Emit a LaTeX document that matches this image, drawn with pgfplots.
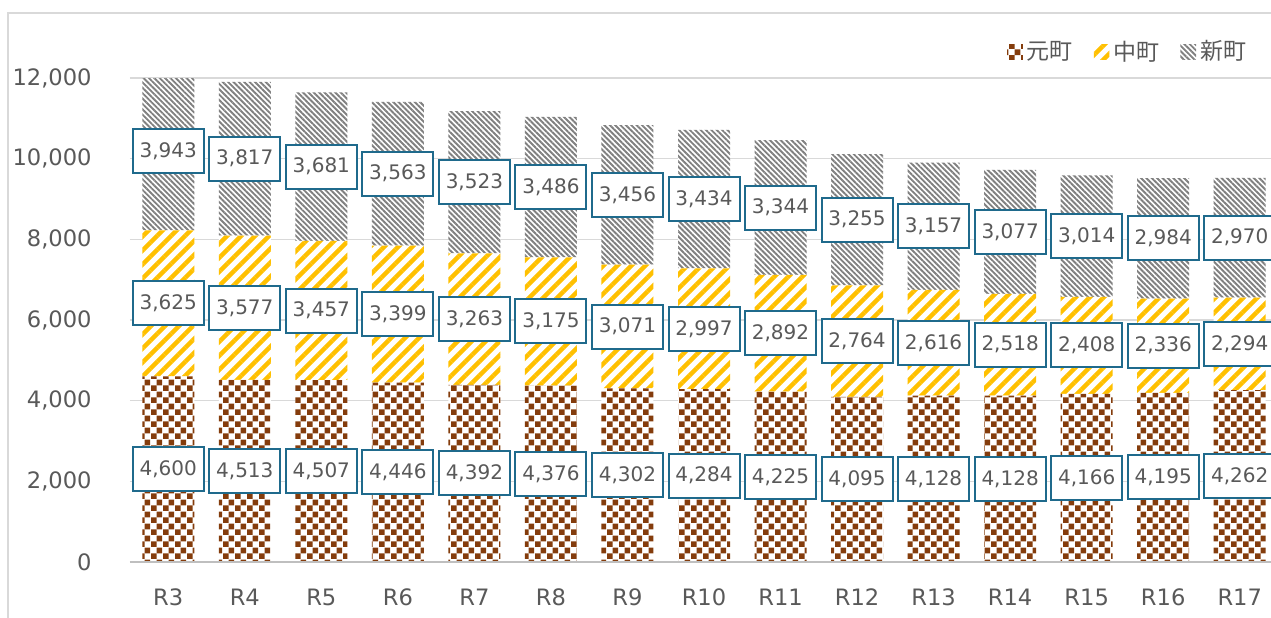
\documentclass[border=0pt]{standalone}
\usepackage{fontspec}
\setmainfont{DejaVu Sans}
\newfontfamily\jp{Noto Sans CJK JP}
\usepackage{pgfplots}
\usepackage{pgfplotstable}
\pgfplotsset{compat=1.18}
\usetikzlibrary{patterns.meta}

\definecolor{textgray}{HTML}{595959}
\definecolor{gridgray}{HTML}{D9D9D9}
\definecolor{axisgray}{HTML}{BFBFBF}
\definecolor{motobrown}{HTML}{843C0C}
\definecolor{nakagold}{HTML}{FFC000}
\definecolor{shingray}{HTML}{808080}
\definecolor{labelblue}{HTML}{1F6A8C}

% checker pattern for 元町
\tikzdeclarepattern{
  name=checker,
  type=uncolored,
  bounding box={(0pt,0pt) and (5.8pt,5.8pt)},
  tile size={(5.8pt,5.8pt)},
  code={
    \fill (0pt,0pt) rectangle (2.9pt,2.9pt);
    \fill (2.9pt,2.9pt) rectangle (5.8pt,5.8pt);
  }
}

\pgfplotstableread{
x  moto naka shin
0  4600 3625 3943
1  4513 3577 3817
2  4507 3457 3681
3  4446 3399 3563
4  4392 3263 3523
5  4376 3175 3486
6  4302 3071 3456
7  4284 2997 3434
8  4225 2892 3344
9  4095 2764 3255
10 4128 2616 3157
11 4128 2518 3077
12 4166 2408 3014
13 4195 2336 2984
14 4262 2294 2970
}\datatable

\begin{document}
\begin{tikzpicture}
\pgfplotsset{
  base/.style={
    scale only axis,
    width=574pt, height=242pt,
    xmin=-0.5, xmax=14.5,
    ymin=0, ymax=12000,
  },
}
\begin{axis}[
  base,
  ybar stacked,
  bar width=26pt,
  axis line style={draw=none},
  major tick length=0pt,
  xtick={0,...,14},
  xticklabels={R3,R4,R5,R6,R7,R8,R9,R10,R11,R12,R13,R14,R15,R16,R17},
  ytick={0,2000,...,12000},
  scaled y ticks=false,
  ymajorgrids,
  grid style={gridgray, line width=0.6pt},
  tick label style={font=\fontsize{11.3}{13}\selectfont, text=textgray},
  yticklabel style={inner sep=0pt, xshift=-19pt,
    /pgf/number format/.cd, fixed, 1000 sep={,}, assume math mode=true},
  xticklabel style={inner sep=0pt, text height=8.2pt, yshift=-13.5pt},
  legend columns=-1,
  legend style={draw=none, fill=none, at={(0.976,1.054)}, anchor=east,
    inner sep=0pt,
    font=\jp\fontsize{11.5}{13}\selectfont, text=textgray,
    /tikz/every even column/.append style={column sep=8.5pt}},
  legend image code/.code={\draw[#1, draw=none] (0pt,-3.9pt) rectangle (7.8pt,3.9pt);},
  after end axis/.code={\draw[axisgray, line width=1.2pt] (rel axis cs:0,0) -- (rel axis cs:1,0);},
]
\addplot[draw=none, preaction={fill=white}, pattern=checker, pattern color=motobrown]
  table[x=x, y=moto] {\datatable};
\addplot[draw=none, preaction={fill=white}, pattern={Lines[angle=45, distance=4.95pt, line width=2.2pt]}, pattern color=nakagold]
  table[x=x, y=naka] {\datatable};
\addplot[draw=none, preaction={fill=white}, pattern={Lines[angle=-45, distance=1.9pt, line width=0.95pt]}, pattern color=shingray]
  table[x=x, y=shin] {\datatable};
\legend{元町,中町,新町}
\end{axis}

% data labels, centred in each segment
\begin{axis}[
  base,
  hide axis,
  clip=false,
  nodes near coords={\pgfmathprintnumber[fixed, precision=0, 1000 sep={,}, assume math mode=true]{\pgfplotspointmeta}},
  every node near coord/.style={anchor=center, draw=labelblue, line width=1pt, fill=white,
    text=textgray, font=\fontsize{10}{12}\selectfont, inner sep=0pt,
    minimum width=35.5pt, minimum height=22pt},
  point meta=explicit,
]
\addplot[draw=none, mark=none] table[x=x, y expr=\thisrow{moto}/2, meta=moto] {\datatable};
\addplot[draw=none, mark=none] table[x=x, y expr=\thisrow{moto}+\thisrow{naka}/2, meta=naka] {\datatable};
\addplot[draw=none, mark=none] table[x=x, y expr=\thisrow{moto}+\thisrow{naka}+\thisrow{shin}/2, meta=shin] {\datatable};
\end{axis}

% chart area frame (cut by the picture's edge)
\draw[gridgray, line width=1pt] (-61pt,-40pt) -- (-61pt,274.5pt) -- (600pt,274.5pt);
\pgfresetboundingbox
\useasboundingbox (-65pt,-27.5pt) rectangle (570.5pt,281pt);
\end{tikzpicture}
\end{document}
